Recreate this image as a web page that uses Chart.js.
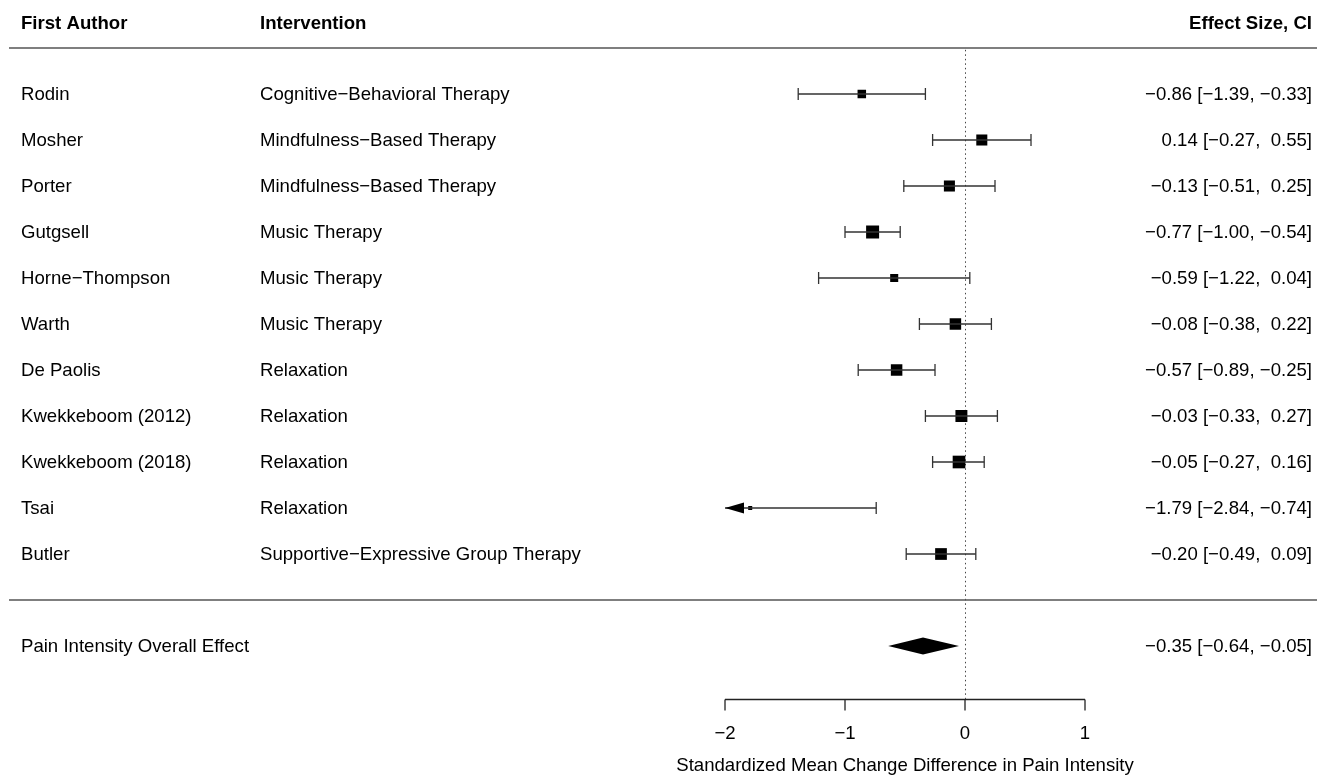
<!DOCTYPE html>
<html>
<head>
<meta charset="utf-8">
<script src="https://cdn.jsdelivr.net/npm/chart.js@4.4.1/dist/chart.umd.min.js"></script>
<style>
  html, body { margin: 0; padding: 0; background: #fff; }
  canvas { display: block; }
</style>
</head>
<body>
<canvas id="forest" width="1317" height="776"></canvas>
<script>
// study data
const authors = ['Rodin', 'Mosher', 'Porter', 'Gutgsell', 'Horne\u2212Thompson', 'Warth',
    'De Paolis', 'Kwekkeboom (2012)', 'Kwekkeboom (2018)', 'Tsai', 'Butler'];
const interventions = ['Cognitive\u2212Behavioral Therapy', 'Mindfulness\u2212Based Therapy',
    'Mindfulness\u2212Based Therapy', 'Music Therapy', 'Music Therapy', 'Music Therapy',
    'Relaxation', 'Relaxation', 'Relaxation', 'Relaxation', 'Supportive\u2212Expressive Group Therapy'];
const estimates = [-0.86, 0.14, -0.13, -0.77, -0.59, -0.08, -0.57, -0.03, -0.05, -1.79, -0.20];
const ciLower = [-1.39, -0.27, -0.51, -1.00, -1.22, -0.38, -0.89, -0.33, -0.27, -2.84, -0.49];
const ciUpper = [-0.33, 0.55, 0.25, -0.54, 0.04, 0.22, -0.25, 0.27, 0.16, -0.74, 0.09];
const weights = [7.4, 9.6, 9.6, 11.3, 7.0, 10.0, 10.0, 10.4, 11.0, 3.5, 10.2];

const overallLabel = 'Pain Intensity Overall Effect';
const overallEstimate = -0.35;
const overallLower = -0.64;
const overallUpper = -0.05;

const headers = ['First Author', 'Intervention', 'Effect Size, CI'];
const xTicks = [-2, -1, 0, 1];
const xTitle = 'Standardized Mean Change Difference in Pain Intensity';

const FONT = '"Liberation Sans", Arial, Helvetica, sans-serif';
const FONT_SIZE = 18.6;
const axisMin = xTicks[0];
const overallRow = authors.length + 1;

const fmt = (v, pad) => {
    const s = Math.abs(v).toFixed(2);
    if (v < 0) return '\u2212' + s;
    return (pad ? ' ' : '') + s;
};
const effectText = (e, lo, hi) => `${fmt(e, false)} [${fmt(lo, false)}, ${fmt(hi, true)}]`;

// CI segments, clipped to the axis limit
const ciLines = [];
const caps = [];
estimates.forEach((e, i) => {
    ciLines.push({ x: Math.max(ciLower[i], axisMin), y: i });
    ciLines.push({ x: ciUpper[i], y: i });
    ciLines.push({ x: null, y: null });
    if (ciLower[i] >= axisMin) caps.push({ x: ciLower[i], y: i });
    caps.push({ x: ciUpper[i], y: i });
});

const tablePlugin = {
    id: 'forestTable',
    beforeDatasetsDraw(chart) {
        const { ctx } = chart;
        const xs = chart.scales.x, ys = chart.scales.y;
        const x0 = xs.getPixelForValue(0);
        ctx.save();
        // reference line at 0
        ctx.strokeStyle = '#444';
        ctx.lineWidth = 1;
        ctx.setLineDash([1.5, 3]);
        ctx.beginPath();
        ctx.moveTo(Math.round(x0) + 0.5, ys.getPixelForValue(-0.96));
        ctx.lineTo(Math.round(x0) + 0.5, ys.getPixelForValue(13.15));
        ctx.stroke();
        ctx.setLineDash([]);

        // separator lines
        ctx.strokeStyle = '#555';
        ctx.lineWidth = 1.6;
        [-1, authors.length].forEach(r => {
            const y = ys.getPixelForValue(r);
            ctx.beginPath();
            ctx.moveTo(9, y);
            ctx.lineTo(1317, y);
            ctx.stroke();
        });
        ctx.restore();
    },
    afterDatasetsDraw(chart) {
        const { ctx } = chart;
        const xs = chart.scales.x, ys = chart.scales.y;
        ctx.save();
        ctx.fillStyle = '#000';
        ctx.textBaseline = 'middle';

        // headers
        ctx.font = `bold ${FONT_SIZE}px ${FONT}`;
        const hy = ys.getPixelForValue(-1.52);
        ctx.textAlign = 'left';
        ctx.fillText(headers[0], 21, hy);
        ctx.fillText(headers[1], 260, hy);
        ctx.textAlign = 'right';
        ctx.fillText(headers[2], 1312, hy);

        // rows
        ctx.font = `${FONT_SIZE}px ${FONT}`;
        authors.forEach((a, i) => {
            const y = ys.getPixelForValue(i) + 1;
            ctx.textAlign = 'left';
            ctx.fillText(a, 21, y);
            ctx.fillText(interventions[i], 260, y);
            ctx.textAlign = 'right';
            ctx.fillText(effectText(estimates[i], ciLower[i], ciUpper[i]), 1312, y);
        });

        // overall row
        const oy = ys.getPixelForValue(overallRow);
        ctx.textAlign = 'left';
        ctx.fillText(overallLabel, 21, oy + 1);
        ctx.textAlign = 'right';
        ctx.fillText(effectText(overallEstimate, overallLower, overallUpper), 1312, oy + 1);

        // summary diamond
        ctx.beginPath();
        ctx.moveTo(xs.getPixelForValue(overallLower), oy);
        ctx.lineTo(xs.getPixelForValue(overallEstimate), oy - 8.5);
        ctx.lineTo(xs.getPixelForValue(overallUpper), oy);
        ctx.lineTo(xs.getPixelForValue(overallEstimate), oy + 8.5);
        ctx.closePath();
        ctx.fill();

        // arrows for truncated CIs
        estimates.forEach((e, i) => {
            if (ciLower[i] >= axisMin) return;
            const tip = xs.getPixelForValue(axisMin);
            const y = ys.getPixelForValue(i);
            ctx.beginPath();
            ctx.moveTo(tip, y);
            ctx.lineTo(tip + 19, y - 5.5);
            ctx.lineTo(tip + 19, y + 5.5);
            ctx.closePath();
            ctx.fill();
        });

        // x axis
        const ay = Math.round(ys.getPixelForValue(13.15)) + 0.5;
        const xl = xs.getPixelForValue(xTicks[0]);
        const xr = xs.getPixelForValue(xTicks[xTicks.length - 1]);
        ctx.strokeStyle = '#222';
        ctx.lineWidth = 1.3;
        ctx.beginPath();
        ctx.moveTo(xl, ay);
        ctx.lineTo(xr, ay);
        xTicks.forEach(t => {
            const tx = xs.getPixelForValue(t);
            ctx.moveTo(tx, ay);
            ctx.lineTo(tx, ay + 11);
        });
        ctx.stroke();

        ctx.textAlign = 'center';
        const ty = ys.getPixelForValue(13.92);
        xTicks.forEach(t => {
            const label = t < 0 ? '\u2212' + Math.abs(t) : String(t);
            ctx.fillText(label, xs.getPixelForValue(t), ty);
        });
        const mid = (xTicks[0] + xTicks[xTicks.length - 1]) / 2;
        ctx.fillText(xTitle, xs.getPixelForValue(mid), ys.getPixelForValue(14.6));
        ctx.restore();
    }
};

new Chart(document.getElementById('forest'), {
    type: 'scatter',
    data: {
        datasets: [
            {
                label: 'CI',
                data: ciLines,
                showLine: true,
                spanGaps: false,
                borderColor: '#333',
                borderWidth: 1.3,
                pointRadius: 0
            },
            {
                label: 'caps',
                data: caps,
                pointStyle: 'line',
                rotation: 90,
                pointRadius: 6,
                borderColor: '#333',
                borderWidth: 1.3
            },
            {
                label: 'estimate',
                data: estimates.map((e, i) => ({ x: e, y: i })),
                pointStyle: 'rect',
                pointRadius: weights.map(w => w * 1.15 / Math.SQRT2),
                backgroundColor: '#000',
                borderColor: '#000',
                borderWidth: 0
            }
        ]
    },
    options: {
        responsive: false,
        animation: false,
        events: [],
        layout: { padding: 0, autoPadding: false },
        plugins: {
            legend: { display: false },
            tooltip: { enabled: false }
        },
        scales: {
            x: { type: 'linear', min: -8.0417, max: 2.9333, display: false },
            y: { type: 'linear', min: -2.0435, max: 14.826, reverse: true, display: false }
        }
    },
    plugins: [tablePlugin]
});
</script>
</body>
</html>
